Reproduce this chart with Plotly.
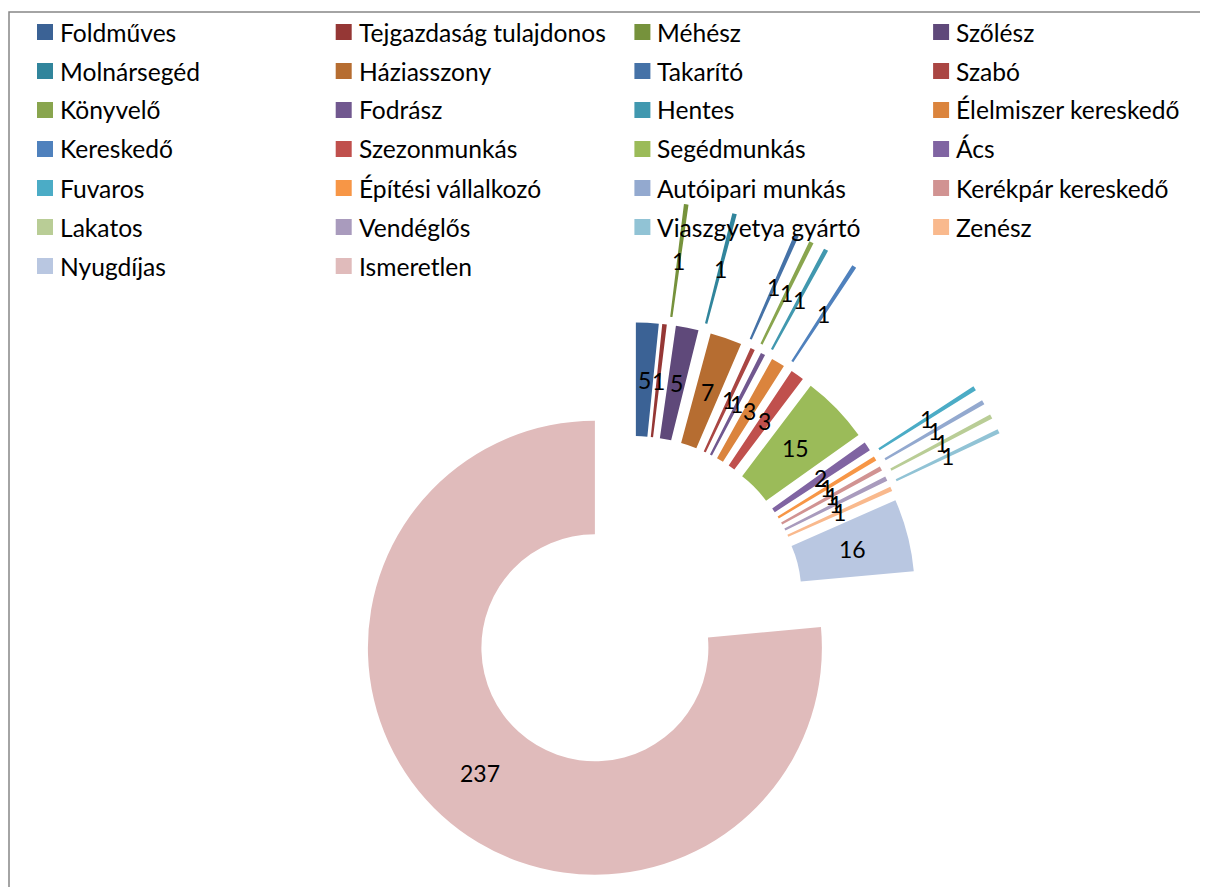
import math
import plotly.graph_objects as go

# ---------------- data ----------------
categories = ["Foldműves", "Tejgazdaság tulajdonos", "Méhész", "Szőlész",
              "Molnársegéd", "Háziasszony", "Takarító", "Szabó",
              "Könyvelő", "Fodrász", "Hentes", "Élelmiszer kereskedő",
              "Kereskedő", "Szezonmunkás", "Segédmunkás", "Ács",
              "Fuvaros", "Építési vállalkozó", "Autóipari munkás", "Kerékpár kereskedő",
              "Lakatos", "Vendéglős", "Viaszgyetya gyártó", "Zenész",
              "Nyugdíjas", "Ismeretlen"]
values = [5, 1, 1, 5, 1, 7, 1, 1, 1, 1, 1, 3, 1, 3, 15, 2,
          1, 1, 1, 1, 1, 1, 1, 1, 16, 237]
colors = ["#3B6295", "#953735", "#76923C", "#5F497A", "#31859C", "#B66D31",
          "#4572A7", "#AA4643", "#89A54E", "#71588F", "#4198AF", "#DB843D",
          "#4F81BD", "#C0504D", "#9BBB59", "#8064A2", "#4BACC6", "#F79646",
          "#93A9CF", "#D19392", "#B9CD96", "#A99BBD", "#91C3D5", "#F9B98D",
          "#B9C7E1", "#E0BBBB"]
# explosion of each point (fraction of the outer radius)
NEAR, FAR = 0.249, 0.785
explode = [NEAR, NEAR, FAR, NEAR, FAR, NEAR, FAR, NEAR, FAR, NEAR, FAR, NEAR,
           FAR, NEAR, NEAR, NEAR, FAR, NEAR, FAR, NEAR, FAR, NEAR, FAR, NEAR,
           NEAR, NEAR]

# ---------------- geometry (viewport pixels) ----------------
OFF = 8                 # default body margin of the html page
W, H = 1200, 1008
CX, CY = 633, 606       # centre of the un-exploded doughnut
R = 227                 # outer radius
HOLE = 0.5
FONT = "Lato, Carlito, Calibri, sans-serif"


def px(x):
    return (x - OFF) / W


def py(y):
    return 1 - (y - OFF) / H


half = R * (1 + max(explode))
domain_x = [px(CX - half), px(CX + half)]
domain_y = [max(0.0, py(CY + half)), py(CY - half)]

fig = go.Figure()
fig.add_trace(go.Pie(
    labels=categories, values=values,
    marker=dict(colors=colors, line=dict(width=0)),
    pull=explode, hole=HOLE, sort=False, direction="clockwise", rotation=0,
    textinfo="none", hoverinfo="label+value", showlegend=False,
    domain=dict(x=domain_x, y=domain_y),
))

annotations = []
shapes = []

# data labels at the middle of each (exploded) ring segment
total = sum(values)
cum = 0
for v, e in zip(values, explode):
    mid = math.radians((cum + v / 2) / total * 360)
    cum += v
    d = (e + (1 + HOLE) / 2) * R
    x = CX + d * math.sin(mid)
    y = CY - d * math.cos(mid)
    annotations.append(dict(x=px(x), y=py(y), xref="paper", yref="paper",
                            text=str(v), showarrow=False,
                            font=dict(family=FONT, size=23, color="#000000"),
                            xanchor="center", yanchor="middle"))

# legend: 4 columns, row-major
COLS = 4
COL_W = 298.7
for i, (name, col) in enumerate(zip(categories, colors)):
    r, c = divmod(i, COLS)
    sx = 37 + COL_W * c
    sy = 32 + 39 * r
    shapes.append(dict(type="rect", xref="paper", yref="paper",
                       x0=px(sx), x1=px(sx + 16), y0=py(sy + 8), y1=py(sy - 8),
                       fillcolor=col, line=dict(width=0)))
    annotations.append(dict(x=px(sx + 21), y=py(sy), xref="paper", yref="paper",
                            text=name, showarrow=False,
                            font=dict(family=FONT, size=24.6, color="#000000"),
                            xanchor="left", yanchor="middle"))

# chart-area frame (left and top edges visible)
shapes.append(dict(type="path", xref="paper", yref="paper",
                   path="M {a},{b} L {a},{c} L {d},{c}".format(
                       a=px(9), b=py(900), c=py(12), d=px(1208)),
                   line=dict(color="#868686", width=1.5)))

fig.update_layout(
    width=W, height=H, autosize=False,
    margin=dict(l=0, r=0, t=0, b=0),
    paper_bgcolor="white", plot_bgcolor="white",
    annotations=annotations, shapes=shapes,
    font=dict(family=FONT),
)

fig.write_html("out.html",
               config={"displayModeBar": False},
               post_script="document.documentElement.style.overflow='hidden';"
                           "document.body.style.overflow='hidden';")
